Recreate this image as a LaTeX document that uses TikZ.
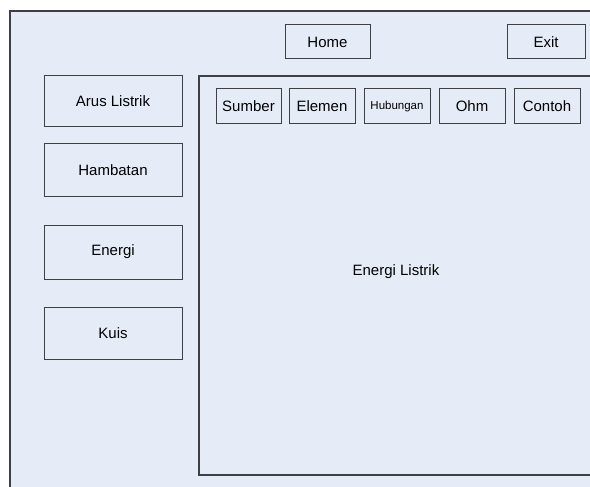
\documentclass[tikz,border=0pt]{standalone}
\usepackage{fontspec}
\setmainfont{Liberation Sans}
\definecolor{bgfill}{HTML}{E6ECF7}
\definecolor{linec}{HTML}{404040}
\begin{document}
\begin{tikzpicture}[x=1pt,y=-1pt,
  btn/.style={draw=linec,line width=1pt,fill=bgfill,inner sep=0pt,font=\fontsize{15}{17}\selectfont,text=black},
  side/.style={btn,minimum width=138pt},
  tab/.style={btn,minimum width=66pt,minimum height=35pt},
  frame/.style={draw=linec,line width=1.1pt}]
\useasboundingbox (0,0) rectangle (590,487);
\fill[bgfill] (10,11) rectangle (590,487);
\draw[frame] (10,487) -- (10,11) -- (590,11);
\draw[frame] (590,76) -- (199,76) -- (199,475) -- (590,475);
\node[btn,minimum width=85pt,minimum height=34pt] (home) at (327.5,42) {Home};
\node[btn,minimum width=78pt,minimum height=34pt] (exit) at (546,42) {Exit};
\node[side,minimum height=51pt] (arus) at (113,101.5) {Arus Listrik};
\node[side,minimum height=52pt] (hamb) at (113,170) {Hambatan};
\node[side,minimum height=54pt] (energi) at (113,252) {Energi};
\node[side,minimum height=52pt] (kuis) at (113,333) {Kuis};
\node[tab,minimum width=65pt] (sumber) at (248.5,106.5) {Sumber};
\node[tab] (elemen) at (322,106.5) {Elemen};
\node[tab,font=\fontsize{11.5}{13}\selectfont] (hub) at (397,106.5) {Hubungan};
\node[tab] (ohm) at (472,106.5) {Ohm};
\node[tab] (contoh) at (547,106.5) {Contoh};
\node[font=\fontsize{15}{17}\selectfont] (content) at (396,272) {Energi Listrik};
\end{tikzpicture}
\end{document}
